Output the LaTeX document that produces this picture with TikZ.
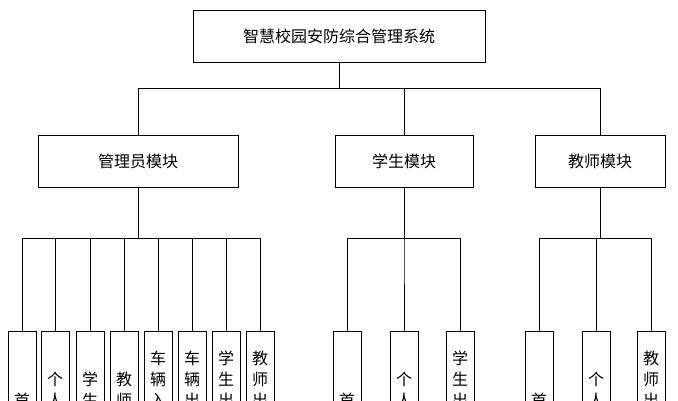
\documentclass[tikz,border=0pt]{standalone}
\usepackage{fontspec}
\newfontfamily\cjk{Noto Sans CJK SC}
\usetikzlibrary{positioning}
\begin{document}
\begin{tikzpicture}[x=1pt,y=-1pt,
    sysNode/.style={rectangle,draw=black,fill=white,thin,font=\cjk\fontsize{16}{19}\selectfont,inner sep=0pt},
    leafNode/.style={rectangle,draw=black,fill=white,thin,minimum width=28pt,minimum height=160pt,inner sep=0pt,align=center,font=\cjk\fontsize{16}{21}\selectfont},
    link/.style={thin,color=black}
    ]
    \useasboundingbox (0,0) rectangle (678,400);
    \clip (0,0) rectangle (678,400);
		% top and modules
		\node[sysNode,minimum width=292pt,minimum height=52pt] (sys) at (339,36) {智慧校园安防综合管理系统};
		\node[sysNode,minimum width=200pt,minimum height=52pt] (admin) at (138,161) {管理员模块};
		\node[sysNode,minimum width=138pt,minimum height=52pt] (stu) at (404,161) {学生模块};
		\node[sysNode,minimum width=130pt,minimum height=52pt] (tea) at (600,161) {教师模块};
		\coordinate (bus) at (339,88);
		\draw[link] (sys.south) -- (bus);
		\foreach \m in {admin,stu,tea}
			\draw[link] (bus) -| (\m.north);
		
		% admin leaves
		\foreach \i/\x/\t in {1/22/首\\页,2/55/个\\人\\信\\息,3/90/学\\生\\管\\理,4/124/教\\师\\管\\理,5/158/车\\辆\\入\\校\\管\\理,6/192/车\\辆\\出\\校\\管\\理,7/226/学\\生\\出\\入\\记\\录,8/260/教\\师\\出\\入\\记\\录}{
			\node[leafNode] (a\i) at (\x,411) {\t};
			\draw[link] (admin.south) -- ([yshift=-51pt]admin.south) -| (a\i.north);
		}
		% student leaves
		\foreach \i/\x/\t in {1/347/首\\页,2/404/个\\人\\信\\息,3/460/学\\生\\出\\入\\记\\录}{
			\node[leafNode] (s\i) at (\x,411) {\t};
			\draw[link] (stu.south) -- ([yshift=-51pt]stu.south) -| (s\i.north);
		}
		% teacher leaves
		\foreach \i/\x/\t in {1/539/首\\页,2/596/个\\人\\信\\息,3/651/教\\师\\出\\入\\记\\录}{
			\node[leafNode] (t\i) at (\x,411) {\t};
			\draw[link] (tea.south) -- ([yshift=-51pt]tea.south) -| (t\i.north);
		}
\end{tikzpicture}
\end{document}
